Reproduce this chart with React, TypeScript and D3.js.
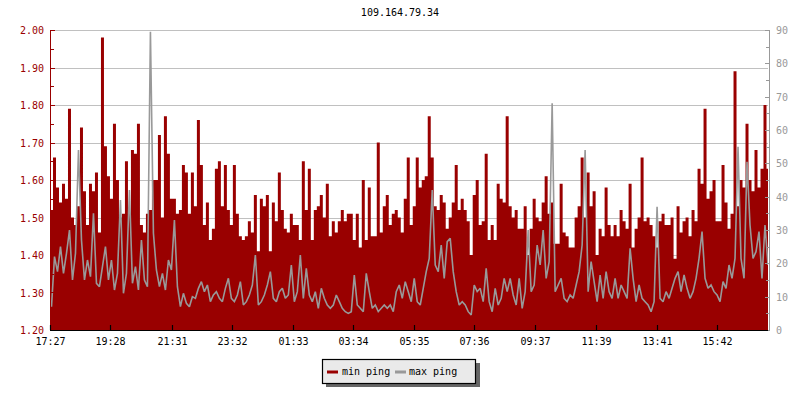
import React from "react";
import * as d3 from "d3";

const title = "109.164.79.34";
const tickLabels = ["17:27", "19:28", "21:31", "23:32", "01:33", "03:34", "05:35", "07:36", "09:37", "11:39", "13:41", "15:42"];
const leftTicks = [1.2, 1.3, 1.4, 1.5, 1.6, 1.7, 1.8, 1.9, 2.0];
const rightTicks = [0, 10, 20, 30, 40, 50, 60, 70, 80, 90];
const seriesNames = ["min ping", "max ping"];
const sampleMinutes = 6;
const spanMinutes = 1437;

const minPingA = [1.52,1.66,1.58,1.54,1.59,1.55,1.79,1.50,1.48,1.53,1.74,1.57,1.48,1.59,1.57,1.62,1.46,1.98,1.69,1.61,1.55,1.75,1.60,1.50,1.51,1.65,1.51,1.68,1.67,1.75,1.48,1.46,1.51,1.52,1.60,1.60,1.72,1.50,1.77,1.67,1.55,1.55,1.51,1.52,1.64,1.62,1.51,1.62];
const minPingB = [1.53,1.76,1.64,1.48,1.54,1.44,1.47,1.63,1.65,1.53,1.64,1.52,1.48,1.64,1.51,1.45,1.44,1.45,1.49,1.46,1.56,1.41,1.55,1.53,1.56,1.41,1.54,1.49,1.62,1.52,1.47,1.46,1.51,1.48,1.48,1.44,1.65,1.52,1.63,1.44,1.52,1.53,1.56,1.50,1.59,1.45,1.49,1.46];
const minPingC = [1.49,1.52,1.49,1.51,1.51,1.44,1.51,1.42,1.60,1.44,1.58,1.45,1.45,1.70,1.46,1.53,1.56,1.48,1.51,1.52,1.50,1.46,1.55,1.66,1.48,1.53,1.66,1.58,1.60,1.61,1.77,1.66,1.53,1.52,1.56,1.54,1.47,1.50,1.54,1.64,1.52,1.55,1.52,1.49,1.40,1.56,1.60,1.48];
const minPingD = [1.49,1.67,1.44,1.48,1.44,1.59,1.55,1.54,1.77,1.53,1.50,1.52,1.47,1.47,1.53,1.40,1.47,1.55,1.50,1.49,1.54,1.61,1.51,1.54,1.43,1.43,1.59,1.46,1.45,1.42,1.42,1.50,1.53,1.66,1.50,1.62,1.53,1.57,1.40,1.47,1.45,1.58,1.48,1.45,1.48,1.45,1.52,1.49];
const minPingE = [1.47,1.59,1.42,1.47,1.50,1.66,1.49,1.50,1.48,1.45,1.42,1.49,1.51,1.48,1.48,1.50,1.39,1.53,1.46,1.49,1.50,1.45,1.52,1.49,1.63,1.59,1.79,1.55,1.57,1.60,1.49,1.49,1.64,1.54,1.47,1.51,1.89,1.53,1.60,1.58,1.75,1.60,1.57,1.68,1.58,1.63,1.80,1.63];

const maxPingA = [7,22,17.5,25,17,23,30,15,23,54,27,15,21,16,35,14,13,19,25,15,21,12,17,39,11,17,42,14,19,12,27,15,13,89.5,29,18,13,17,12,21,18,33,13,7,11,8,7,10];
const maxPingB = [9.5,12.5,14.5,11.5,13.5,8.5,10.5,11.5,9.5,8.5,12.5,15.5,9.5,8.5,10.5,14.5,7.5,8.5,10.5,13.5,22.5,7.5,8.5,10.5,13.5,17.5,9.5,8.5,11.5,12.5,9.5,10.5,19.5,8.5,11.5,22.5,9.5,18.5,10.5,8.5,11.5,6.5,12.5,9.5,7.5,6.5,7.5,10.5];
const maxPingC = [8.5,6.5,5.5,5,5.5,16.5,7.5,6.5,5.5,17,11.5,6.5,7.5,5.5,6.5,7.5,6.5,7.5,5.5,11.5,13.5,9.5,14.5,11.5,8.5,15.5,8.5,7.5,12.5,17.5,21.5,42,19.5,17.5,25.5,15.5,26.5,27.5,17.5,11.5,7.5,8.5,7.5,5.5,4.5,13.5,11.5,12.5];
const maxPingD = [8.5,18.5,8.5,5.5,12.5,7.5,9.5,15.5,11.5,15.5,10.5,7.5,15.5,6.5,11.5,30,11.5,13.5,25.5,19.5,30,15.5,20.5,68,11.5,13.5,15.5,9.5,8.5,10.5,9.5,13.5,17.5,25.5,54,11.5,20.5,14.5,8.5,16.5,9.5,17.5,11.5,9.5,15.5,9.5,13.5,11.5];
const maxPingE = [9.5,24.5,15.5,8.5,13.5,9.5,8.5,7.5,5.5,8.5,37,9.5,8.5,11.5,9.5,12.5,15.5,17.5,11.5,16.5,12.5,9.5,11.5,15.5,21.5,29.5,15.5,12.5,13.5,11.5,10.5,8.5,14.5,12.5,19.5,15.5,21.5,55,21.5,15.5,50.5,31.5,21.5,23.5,29.5,15.5,31.5,19.5];

const minPing = [...minPingA, ...minPingB, ...minPingC, ...minPingD, ...minPingE];
const maxPing = [...maxPingA, ...maxPingB, ...maxPingC, ...maxPingD, ...maxPingE];

const RED = "#990000";
const GRAY = "#999999";
const FONT = "'DejaVu Sans Mono', monospace";

const W = 800, H = 400;
const L = 50, R = 768, T = 30, B = 330;

function toMinutes(label: string) {
  const [h, m] = label.split(":").map(Number);
  return ((h * 60 + m) - (17 * 60 + 27) + 1440) % 1440;
}

export default function App() {
  const x = d3.scaleLinear().domain([0, spanMinutes]).range([L, R]);
  const yL = d3.scaleLinear().domain([1.2, 2.0]).range([B, T]);
  const yR = d3.scaleLinear().domain([0, 90]).range([B, T]);

  const minData = minPing.map((v, i) => ({ t: i * sampleMinutes, v }));
  minData.push({ t: minPing.length * sampleMinutes, v: minPing[minPing.length - 1] });
  const maxData = maxPing.map((v, i) => ({ t: (i + 0.5) * sampleMinutes, v }));

  const area = d3.area<{ t: number; v: number }>()
    .x(d => x(d.t)).y0(yL(1.2)).y1(d => yL(d.v)).curve(d3.curveStepAfter);
  const line = d3.line<{ t: number; v: number }>()
    .x(d => x(d.t)).y(d => yR(d.v)).curve(d3.curveLinear);

  const leftMinor = d3.range(1.25, 2.0, 0.1);
  const rightMinor = d3.range(5, 90, 10);

  return (
    <svg width={W} height={H} style={{ position: "absolute", left: 0, top: 0, background: "#fff" }} fontFamily={FONT}>
      <defs>
        <clipPath id="plot"><rect x={L + 1} y={T - 1} width={R - L - 1} height={B - T + 1} /></clipPath>
      </defs>
      <rect x={0} y={0} width={W} height={H} fill="#fff" />
      <text x={400} y={16} textAnchor="middle" fontSize={10} fill="#000">{title}</text>

      {leftTicks.map(t => (
        <line key={"g" + t} x1={L} x2={R} y1={Math.round(yL(t)) + 0.5} y2={Math.round(yL(t)) + 0.5} stroke="#c0c0c0" strokeWidth={1} />
      ))}

      <g clipPath="url(#plot)">
        <path d={area(minData) || ""} fill={RED} />
        <path d={line(maxData) || ""} fill="none" stroke={GRAY} strokeWidth={1.6} strokeLinejoin="miter" strokeMiterlimit={2} />
      </g>

      {/* left axis */}
      <line x1={L + 0.5} x2={L + 0.5} y1={T} y2={B} stroke={RED} strokeWidth={1} />
      {leftTicks.map(t => (
        <g key={"l" + t}>
          <line x1={L} x2={L + 5} y1={Math.round(yL(t)) + 0.5} y2={Math.round(yL(t)) + 0.5} stroke={RED} />
          <text x={44} y={yL(t) + 4} textAnchor="end" fontSize={10} fill={RED}>{t.toFixed(2)}</text>
        </g>
      ))}
      {leftMinor.map(t => (
        <line key={"lm" + t} x1={L} x2={L + 4} y1={Math.round(yL(t)) + 0.5} y2={Math.round(yL(t)) + 0.5} stroke={RED} />
      ))}

      {/* right axis */}
      <line x1={R + 1.5} x2={R + 1.5} y1={T} y2={B} stroke={GRAY} strokeWidth={1} />
      {rightTicks.map(t => (
        <g key={"r" + t}>
          <line x1={R - 3} x2={R + 2} y1={Math.round(yR(t)) + 0.5} y2={Math.round(yR(t)) + 0.5} stroke={GRAY} />
          <text x={776} y={yR(t) + 4} textAnchor="start" fontSize={10} fill={GRAY}>{t}</text>
        </g>
      ))}
      {rightMinor.map(t => (
        <line key={"rm" + t} x1={R - 2} x2={R + 2} y1={Math.round(yR(t)) + 0.5} y2={Math.round(yR(t)) + 0.5} stroke={GRAY} />
      ))}

      {/* bottom axis */}
      <line x1={L} x2={R} y1={B + 0.5} y2={B + 0.5} stroke="#000" strokeWidth={1.2} />
      {tickLabels.map(lbl => {
        const px = Math.round(x(toMinutes(lbl))) + 0.5;
        return (
          <g key={lbl}>
            <line x1={px} x2={px} y1={B - 5} y2={B} stroke="#000" strokeWidth={1.2} />
            <text x={px} y={345} textAnchor="middle" fontSize={10} fill="#000">{lbl}</text>
          </g>
        );
      })}

      {/* legend */}
      <rect x={326} y={363} width={154} height={24} fill="#666" />
      <rect x={322.5} y={359.5} width={153} height={24} fill="#eaeaea" stroke="#000" strokeWidth={1.2} />
      <line x1={327} x2={338} y1={372} y2={372} stroke={RED} strokeWidth={3} />
      <text x={342} y={375} fontSize={10} fill="#000">{seriesNames[0]}</text>
      <line x1={395} x2={406} y1={372} y2={372} stroke={GRAY} strokeWidth={3} />
      <text x={409} y={375} fontSize={10} fill="#000">{seriesNames[1]}</text>
    </svg>
  );
}
